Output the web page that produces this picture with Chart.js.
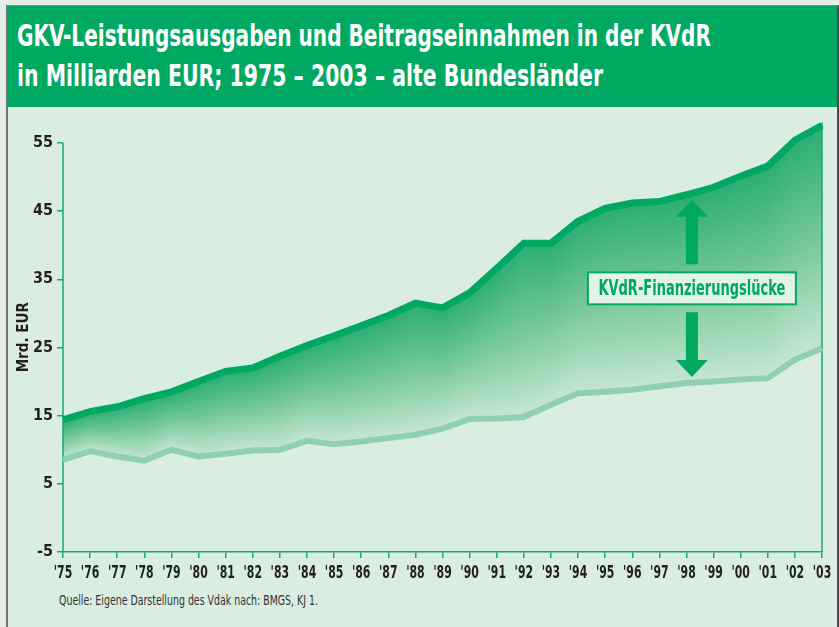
<!DOCTYPE html>
<html lang="de">
<head>
<meta charset="utf-8">
<title>GKV-Leistungsausgaben und Beitragseinnahmen in der KVdR</title>
<script src="https://cdn.jsdelivr.net/npm/chart.js@4"></script>
<style>
  html, body { margin: 0; padding: 0; }
  body {
    width: 839px; height: 627px; overflow: hidden; position: relative;
    background: #e3efe7;
    font-family: 'Liberation Sans Narrow', 'DejaVu Sans Condensed', 'Liberation Sans', sans-serif;
  }
  #frame {
    position: absolute; left: 6px; top: 5px; width: 829px; height: 640px;
    border-left: 2px solid #727272; border-top: 1px solid #8a8a8a; border-right: 2px solid #4d4d4d;
    background: #d9ede1;
  }
  #header { position: absolute; left: 0; top: 0; width: 100%; height: 101px; background: #00a862; }
  .line { position: absolute; white-space: nowrap; transform-origin: 0 0; }
  .title { left: 17px; color: #fff; font-weight: bold; font-size: 30px; line-height: 30px; }
  #source { left: 59px; top: 593px; color: #333; font-size: 14px; line-height: 14px; }
  #wrap { position: absolute; left: 0; top: 0; width: 839px; height: 627px; }
</style>
</head>
<body>
<div id="frame"><div id="header"></div></div>
<div class="line title" id="t1" style="top:21px">GKV-Leistungsausgaben und Beitragseinnahmen in der KVdR</div>
<div class="line title" id="t2" style="top:61px">in Milliarden EUR; 1975 – 2003 – alte Bundesländer</div>
<div class="line" id="source">Quelle: Eigene Darstellung des Vdak nach: BMGS, KJ 1.</div>
<div id="wrap"><canvas id="myChart"></canvas></div>
<script>
const FONT = "'Liberation Sans Narrow', 'DejaVu Sans Condensed', 'Liberation Sans', sans-serif";

const years = ["'75", "'76", "'77", "'78", "'79", "'80", "'81", "'82", "'83", "'84",
  "'85", "'86", "'87", "'88", "'89", "'90", "'91", "'92", "'93", "'94",
  "'95", "'96", "'97", "'98", "'99", "'00", "'01", "'02", "'03"];
// Leistungsausgaben (obere Linie)
const ausgaben = [14.4, 15.6, 16.3, 17.5, 18.5, 20.0, 21.5, 22.0, 23.7, 25.3,
  26.7, 28.2, 29.7, 31.5, 30.8, 33.0, 36.6, 40.3, 40.3, 43.5,
  45.4, 46.2, 46.4, 47.4, 48.5, 50.1, 51.6, 55.4, 57.6];
// Beitragseinnahmen (untere Linie)
const einnahmen = [8.5, 9.8, 9.0, 8.4, 10.0, 9.0, 9.4, 9.9, 10.0, 11.3,
  10.8, 11.2, 11.7, 12.2, 13.1, 14.5, 14.6, 14.8, 16.6, 18.3,
  18.5, 18.8, 19.3, 19.8, 20.0, 20.3, 20.5, 23.2, 24.9];
const yTicks = [-5, 5, 15, 25, 35, 45, 55];
const gapLabel = 'KVdR-Finanzierungslücke';

// squeeze the header / source lines to the width they have in the original
function fitWidth(id, target) {
  const el = document.getElementById(id);
  const w = el.getBoundingClientRect().width;
  el.style.transform = `scaleX(${target / w})`;
}
fitWidth('t1', 694);
fitWidth('t2', 586);
fitWidth('source', 259);

const green = '#00a862';
const axisGreen = '#1aa86a';
const textDark = '#231f20';

// gradient band between the two lines, dark at the top line, pale at the bottom one
const bandFill = {
  id: 'bandFill',
  beforeDatasetsDraw(chart) {
    const top = chart.getDatasetMeta(0).data;
    const bot = chart.getDatasetMeta(1).data;
    const c = chart.ctx;
    c.save();
    c.beginPath();
    top.forEach((p, i) => (i ? c.lineTo(p.x, p.y) : c.moveTo(p.x, p.y)));
    for (let i = bot.length - 1; i >= 0; i--) c.lineTo(bot[i].x, bot[i].y);
    c.closePath();
    c.clip();
    let i = 0;
    for (let x = Math.floor(top[0].x); x <= Math.ceil(top[top.length - 1].x); x++) {
      while (i < top.length - 2 && x > top[i + 1].x) i++;
      const t = Math.min(1, Math.max(0, (x + 0.5 - top[i].x) / (top[i + 1].x - top[i].x)));
      const yt = top[i].y + t * (top[i + 1].y - top[i].y);
      const yb = bot[i].y + t * (bot[i + 1].y - bot[i].y);
      const g = c.createLinearGradient(0, yt, 0, yb);
      g.addColorStop(0, '#2aae73');
      g.addColorStop(0.5, '#76c89b');
      g.addColorStop(1, '#c6e7d2');
      c.fillStyle = g;
      c.fillRect(x, yt - 4, 1, yb - yt + 8);
    }
    c.restore();

    // axis lines: left one only up to the 55 tick, right one up to the last value
    const xs = chart.scales.x, ys = chart.scales.y;
    const yBottom = ys.getPixelForValue(yTicks[0]);
    c.save();
    c.strokeStyle = axisGreen;
    c.lineWidth = 1.5;
    c.beginPath();
    c.moveTo(xs.left, yBottom);
    c.lineTo(xs.left, ys.getPixelForValue(yTicks[yTicks.length - 1]));
    c.moveTo(xs.right, yBottom);
    c.lineTo(xs.right, top[top.length - 1].y - 3);
    c.stroke();
    c.restore();
  },
};

// condensed year labels under the x axis
const yearLabels = {
  id: 'yearLabels',
  afterDraw(chart) {
    const xs = chart.scales.x;
    const c = chart.ctx;
    c.save();
    c.font = `bold 18px ${FONT}`;
    c.fillStyle = textDark;
    c.textAlign = 'center';
    c.textBaseline = 'alphabetic';
    const k = 18.5 / c.measureText("'75").width;
    chart.data.labels.forEach((lab, i) => {
      c.save();
      c.translate(xs.getPixelForValue(i), xs.top + 26);
      c.scale(k, 1);
      c.fillText(lab, 0, 0);
      c.restore();
    });
    c.restore();
  },
};

function arrow(c, x, yTip, yEnd) {
  const dir = Math.sign(yEnd - yTip);
  const head = 17, hw = 16, sw = 6;
  c.beginPath();
  c.moveTo(x, yTip);
  c.lineTo(x + hw, yTip + dir * head);
  c.lineTo(x + sw, yTip + dir * head);
  c.lineTo(x + sw, yEnd);
  c.lineTo(x - sw, yEnd);
  c.lineTo(x - sw, yTip + dir * head);
  c.lineTo(x - hw, yTip + dir * head);
  c.closePath();
  c.fill();
}

const gapNote = {
  id: 'gapNote',
  afterDatasetsDraw(chart) {
    const c = chart.ctx;
    const idx = years.indexOf("'98");
    const cx = chart.scales.x.getPixelForValue(idx + 0.2);
    const tipTop = chart.getDatasetMeta(0).data[idx].y + 5;
    const tipBot = chart.getDatasetMeta(1).data[idx].y - 6;
    const cy = (tipTop + tipBot) / 2;
    const bw = 208, bh = 32;

    c.save();
    c.fillStyle = green;
    arrow(c, cx, tipTop, cy - bh / 2 - 8);
    arrow(c, cx, tipBot, cy + bh / 2 + 8);

    c.fillStyle = '#e2f3e8';
    c.fillRect(cx - bw / 2, cy - bh / 2, bw, bh);
    c.strokeStyle = green;
    c.lineWidth = 2;
    c.strokeRect(cx - bw / 2, cy - bh / 2, bw, bh);

    c.font = `bold 22px ${FONT}`;
    c.textAlign = 'center';
    c.textBaseline = 'middle';
    const w = c.measureText(gapLabel).width;
    c.translate(cx, cy + 1);
    c.scale(187 / w, 1);
    c.fillStyle = green;
    c.fillText(gapLabel, 0, 0);
    c.restore();
  },
};

const ctx = document.getElementById('myChart').getContext('2d');

const chart = new Chart(ctx, {
  type: 'line',
  data: {
    labels: years,
    datasets: [{
      label: 'Leistungsausgaben',
      data: ausgaben,
      borderColor: green,
      borderWidth: 7,
      pointRadius: 0,
      tension: 0,
      fill: false,
      clip: false,
    }, {
      label: 'Beitragseinnahmen',
      data: einnahmen,
      borderColor: '#8fd1ae',
      borderWidth: 6,
      pointRadius: 0,
      tension: 0,
      fill: false,
      clip: false,
    }],
  },
  options: {
    responsive: true,
    maintainAspectRatio: false,
    animation: false,
    layout: { padding: { left: 0, right: 17, top: 122.5, bottom: 35 } },
    plugins: {
      legend: { display: false },
      tooltip: { enabled: false },
    },
    scales: {
      x: {
        grid: { drawOnChartArea: false, tickLength: 6, color: axisGreen, lineWidth: 1.5 },
        border: { display: true, color: axisGreen, width: 1.5 },
        ticks: { display: false, autoSkip: false },
        afterFit: (scale) => { scale.height = 40; },
      },
      y: {
        min: -5,
        max: 58,
        afterBuildTicks: (scale) => { scale.ticks = yTicks.map((v) => ({ value: v })); },
        grid: { drawOnChartArea: false, tickLength: 6, color: axisGreen, lineWidth: 1.5 },
        border: { display: false },
        ticks: {
          padding: 4,
          color: textDark,
          font: { family: FONT, size: 16, weight: 'bold' },
        },
        title: {
          display: true,
          text: 'Mrd. EUR',
          color: textDark,
          font: { family: FONT, size: 15, weight: 'bold' },
          padding: { top: 15, bottom: 0 },
        },
        afterFit: (scale) => { scale.width = 63; },
      },
    },
  },
  plugins: [bandFill, gapNote, yearLabels],
});
</script>
</body>
</html>
